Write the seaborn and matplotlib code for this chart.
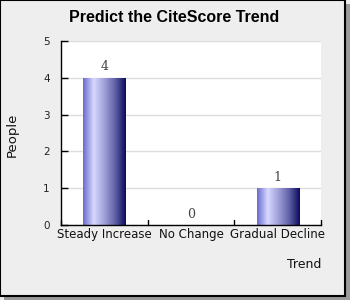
import matplotlib
matplotlib.use("Agg")
import matplotlib.pyplot as plt
import seaborn as sns
import numpy as np
import pandas as pd
from matplotlib.colors import LinearSegmentedColormap
from matplotlib.patches import Rectangle

categories = ["Steady Increase", "No Change", "Gradual Decline"]
people = [4, 0, 1]
y_ticks = [0, 1, 2, 3, 4, 5]
title = "Predict the CiteScore Trend"
x_label = "Trend"
y_label = "People"

sns.set_theme(style="white")
plt.rcParams['font.family'] = ['DejaVu Sans']

fig = plt.figure(figsize=(3.5, 3.0), dpi=100)
fig.patch.set_facecolor("#EEEEEE")

# frame with shadow
fig.add_artist(Rectangle((4/350, 0), 346/350, 296/300, transform=fig.transFigure,
                         facecolor="#9a9a9a", edgecolor="none", zorder=-3))
fig.add_artist(Rectangle((0, 4/300), 345/350, 296/300, transform=fig.transFigure,
                         facecolor="#EEEEEE", edgecolor="black", linewidth=1.5, zorder=-2))

ax = fig.add_axes([61/350, 75/300, 260/350, 184/300])
ax.set_facecolor("white")

df = pd.DataFrame({"Trend": categories, "People": people})
sns.barplot(data=df, x="Trend", y="People", ax=ax, width=0.485,
            color="#8080d0", saturation=1, edgecolor="none")

ax.set_ylim(0, 5)
ax.set_xlim(-0.5, len(categories) - 0.5)
ax.set_yticks(y_ticks)
ax.set_yticklabels([str(t) for t in y_ticks], fontsize=7.5, color="#222222")
ax.yaxis.grid(True, color="#dddddd", linewidth=1)
ax.set_axisbelow(True)

# gradient fill clipped to bars
cmap = LinearSegmentedColormap.from_list("g", [
    (0.0, "#6a6acf"), (0.25, "#d8d8ff"), (0.5, "#a0a0d8"),
    (0.75, "#6060a8"), (1.0, "#0a0a5c")])
grad = np.linspace(0, 1, 256).reshape(1, -1)
for p in ax.patches:
    x0, y0 = p.get_x(), p.get_y()
    w, h = p.get_width(), p.get_height()
    if h <= 0:
        continue
    im = ax.imshow(grad, cmap=cmap, aspect="auto",
                   extent=(x0, x0 + w, y0, y0 + h), zorder=p.get_zorder() + 0.1)
    im.set_clip_path(p)
ax.set_xlim(-0.5, len(categories) - 0.5)
ax.set_ylim(0, 5)

for i, v in enumerate(people):
    ax.text(i, v + 0.12, str(v), ha="center", va="bottom", fontsize=9,
            color="#444444", family="DejaVu Serif")

# x tick marks between categories, labels at centers
ax.set_xticks(np.arange(len(categories)))
ax.set_xticklabels(categories, fontsize=8.5, color="#111111")
ax.tick_params(axis="x", length=0, pad=2)
for xb in [-0.5, 0.5, 1.5, 2.5]:
    ax.plot([xb, xb], [0, 0.13], color="black", linewidth=1, clip_on=False, zorder=5)
ax.tick_params(axis="y", direction="in", length=5, width=1, color="black", pad=8, left=True)

for s in ["top", "right"]:
    ax.spines[s].set_visible(False)
for s in ["left", "bottom"]:
    ax.spines[s].set_color("black")
    ax.spines[s].set_linewidth(1)

ax.set_xlabel("")
ax.set_ylabel("")
fig.text(304/350, 1 - 265/300, x_label, ha="center", va="center", fontsize=9, color="#111111")
fig.text(12/350, 1 - 135/300, y_label, ha="center", va="center", rotation=90,
         fontsize=9.5, color="#111111")
fig.text(174/350, 1 - 17/300, title, ha="center", va="center", fontsize=11.5,
         fontweight="bold", color="black", family="Liberation Sans")

fig.savefig("out.png", dpi=100, facecolor=fig.get_facecolor())
